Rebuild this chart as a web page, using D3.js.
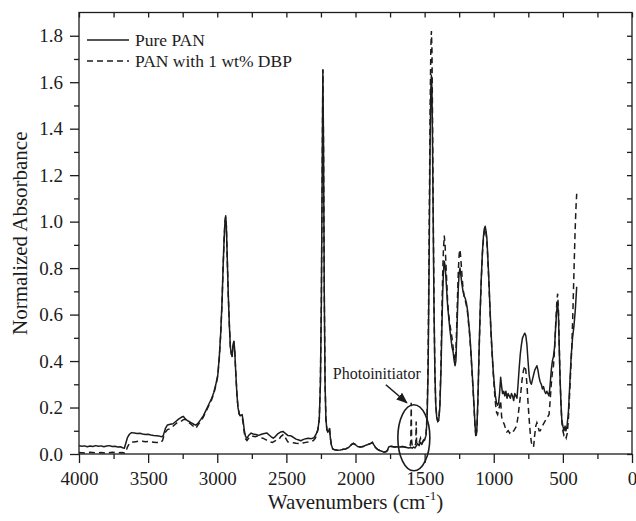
<!DOCTYPE html>
<html>
<head>
<meta charset="utf-8">
<script src="https://cdn.jsdelivr.net/npm/d3@7"></script>
<style>
  html, body { margin: 0; padding: 0; background: #fff; }
  svg { display: block; font-family: "Liberation Serif", "Times New Roman", serif; }
</style>
</head>
<body>
<svg id="chart" width="636" height="521"></svg>
<script>
// FTIR spectra: wavenumber (cm^-1) and normalized absorbance
const pureWn = [4000,3980,3960,3940,3920,3900,3880,3860,3840,3820,3800,3780,3760,3740,3720,3700,3685,3672,3662,3650,3635,3620,3600,3580,3560,3540,3520,3500,3480,3460,3440,3420,3400,3390,3375,3360,3340,3320,3300,3280,3260,3245,3230,3210,3190,3170,3155,3140,3120,3100,3080,3060,3040,3025,3010,2996,2985,2975,2965,2958,2950,2944,2939,2934,2928,2920,2912,2905,2898,2892,2886,2880,2874,2866,2858,2850,2840,2830,2820,2812,2804,2795,2785,2770,2755,2740,2720,2700,2680,2660,2640,2625,2610,2595,2580,2560,2540,2525,2510,2490,2470,2450,2430,2410,2395,2380,2360,2340,2320,2300,2285,2272,2262,2254,2247,2241,2236,2231,2226,2220,2214,2207,2200,2193,2188,2182,2175,2165,2150,2130,2110,2090,2070,2050,2030,2015,2000,1985,1965,1945,1925,1905,1890,1878,1868,1855,1840,1825,1810,1795,1780,1770,1760,1748,1735,1720,1700,1680,1660,1645,1630,1615,1600,1590,1580,1570,1560,1550,1540,1530,1520,1510,1500,1490,1482,1475,1470,1465,1460,1455,1451,1447,1443,1438,1432,1426,1420,1413,1405,1398,1390,1382,1376,1370,1364,1358,1352,1346,1340,1334,1326,1318,1310,1302,1294,1286,1280,1274,1268,1262,1256,1250,1244,1238,1230,1222,1214,1206,1198,1190,1182,1174,1166,1158,1150,1142,1135,1129,1122,1114,1106,1098,1090,1082,1074,1068,1062,1056,1050,1044,1036,1028,1020,1012,1004,996,988,980,972,965,958,950,943,936,928,920,912,904,896,888,880,872,864,856,848,840,832,824,816,808,800,792,784,776,768,760,752,744,736,728,720,712,704,696,688,680,672,664,656,648,640,632,624,616,608,600,592,584,576,568,560,552,544,538,532,526,520,514,508,500,492,484,478,470,460,450,440,430,420,410,400];
const pureAbs = [0.036,0.033,0.035,0.031,0.034,0.032,0.036,0.033,0.035,0.031,0.034,0.036,0.032,0.033,0.030,0.031,0.027,0.025,0.045,0.070,0.085,0.092,0.090,0.088,0.089,0.086,0.084,0.085,0.082,0.080,0.079,0.077,0.074,0.080,0.110,0.125,0.128,0.130,0.140,0.150,0.158,0.162,0.150,0.142,0.135,0.128,0.124,0.132,0.148,0.165,0.19,0.215,0.24,0.265,0.30,0.34,0.42,0.52,0.66,0.80,0.93,1.00,1.025,0.98,0.85,0.68,0.55,0.46,0.43,0.42,0.47,0.485,0.45,0.35,0.26,0.20,0.17,0.165,0.17,0.14,0.10,0.075,0.068,0.082,0.090,0.086,0.084,0.080,0.085,0.088,0.090,0.082,0.074,0.068,0.075,0.088,0.095,0.097,0.090,0.080,0.079,0.072,0.064,0.060,0.057,0.062,0.066,0.068,0.066,0.070,0.085,0.105,0.15,0.30,0.65,1.20,1.654,1.30,0.70,0.30,0.15,0.105,0.095,0.10,0.11,0.07,0.04,0.022,0.018,0.016,0.017,0.020,0.022,0.028,0.040,0.046,0.040,0.032,0.030,0.032,0.038,0.042,0.046,0.050,0.040,0.028,0.020,0.015,0.012,0.008,0.010,0.014,0.030,0.033,0.032,0.030,0.031,0.030,0.032,0.030,0.028,0.026,0.028,0.025,0.030,0.026,0.035,0.045,0.036,0.050,0.042,0.055,0.060,0.080,0.15,0.35,0.65,1.00,1.35,1.57,1.63,1.57,1.35,1.00,0.62,0.36,0.22,0.16,0.14,0.145,0.20,0.35,0.52,0.68,0.78,0.83,0.81,0.76,0.70,0.64,0.59,0.54,0.50,0.46,0.44,0.40,0.38,0.40,0.50,0.62,0.72,0.78,0.80,0.77,0.73,0.70,0.68,0.67,0.65,0.62,0.57,0.52,0.45,0.37,0.29,0.20,0.12,0.08,0.11,0.25,0.45,0.62,0.76,0.87,0.94,0.97,0.98,0.96,0.93,0.86,0.76,0.64,0.53,0.44,0.36,0.30,0.25,0.22,0.21,0.22,0.26,0.33,0.29,0.26,0.27,0.25,0.27,0.24,0.26,0.25,0.24,0.26,0.25,0.23,0.26,0.25,0.24,0.30,0.37,0.43,0.47,0.50,0.51,0.52,0.51,0.47,0.40,0.34,0.31,0.30,0.32,0.34,0.36,0.37,0.38,0.36,0.33,0.31,0.30,0.28,0.29,0.27,0.26,0.27,0.26,0.25,0.30,0.36,0.40,0.42,0.46,0.55,0.62,0.65,0.60,0.45,0.32,0.22,0.15,0.12,0.10,0.12,0.10,0.12,0.18,0.30,0.42,0.50,0.55,0.62,0.72];

const dbpWn = [4000,3960,3920,3880,3840,3800,3760,3720,3690,3670,3660,3650,3635,3620,3603,3580,3560,3540,3520,3500,3480,3460,3440,3420,3408,3395,3380,3360,3336,3310,3290,3264,3245,3230,3210,3190,3170,3155,3140,3120,3100,3080,3060,3040,3025,3010,2996,2985,2975,2965,2958,2950,2944,2939,2934,2928,2920,2912,2905,2898,2892,2886,2880,2874,2866,2858,2850,2840,2830,2820,2812,2804,2795,2785,2770,2758,2740,2725,2710,2690,2670,2650,2630,2614,2600,2585,2570,2555,2540,2520,2505,2490,2470,2450,2430,2410,2397,2380,2360,2340,2325,2305,2290,2280,2272,2262,2254,2247,2241,2236,2231,2226,2220,2214,2207,2200,2193,2188,2182,2175,2165,2150,2130,2110,2090,2070,2050,2030,2015,2000,1985,1965,1945,1925,1905,1890,1878,1868,1855,1840,1825,1810,1795,1780,1770,1760,1748,1735,1720,1700,1680,1660,1645,1630,1615,1605,1600,1597,1594,1590,1580,1570,1564,1561,1558,1550,1540,1530,1520,1510,1500,1490,1482,1475,1470,1465,1460,1455,1451,1447,1443,1438,1432,1426,1420,1413,1405,1398,1390,1382,1376,1370,1364,1358,1352,1346,1340,1334,1326,1318,1310,1302,1294,1286,1280,1274,1268,1262,1256,1250,1244,1238,1230,1222,1214,1206,1198,1190,1182,1174,1166,1158,1150,1142,1135,1129,1122,1114,1106,1098,1090,1082,1074,1068,1062,1056,1050,1044,1036,1028,1020,1012,1004,996,988,980,972,960,950,943,935,925,915,905,895,885,875,865,855,845,835,825,815,805,795,785,775,768,760,752,744,736,728,720,712,704,696,688,680,672,664,656,648,640,630,620,610,600,592,584,576,568,560,552,544,538,532,526,520,514,508,500,492,484,476,468,460,452,444,436,428,420,412,406,400];
const dbpAbs = [0.006,0.004,0.007,0.005,0.006,0.004,0.008,0.005,0.006,0.004,0.010,0.030,0.045,0.052,0.052,0.054,0.056,0.055,0.053,0.054,0.052,0.051,0.050,0.049,0.049,0.060,0.090,0.105,0.110,0.125,0.135,0.140,0.148,0.150,0.138,0.128,0.118,0.110,0.125,0.140,0.160,0.185,0.21,0.235,0.26,0.295,0.335,0.415,0.515,0.655,0.80,0.93,1.00,1.02,0.98,0.85,0.68,0.55,0.46,0.43,0.42,0.47,0.485,0.45,0.35,0.26,0.20,0.17,0.16,0.16,0.13,0.09,0.065,0.058,0.070,0.078,0.076,0.074,0.077,0.070,0.068,0.062,0.056,0.052,0.050,0.055,0.060,0.062,0.075,0.085,0.068,0.052,0.050,0.048,0.046,0.045,0.044,0.047,0.050,0.052,0.052,0.058,0.068,0.085,0.105,0.15,0.30,0.65,1.20,1.654,1.30,0.70,0.30,0.15,0.105,0.095,0.10,0.11,0.07,0.04,0.022,0.018,0.016,0.017,0.020,0.022,0.028,0.040,0.046,0.040,0.032,0.030,0.032,0.038,0.042,0.046,0.050,0.040,0.028,0.020,0.015,0.012,0.008,0.010,0.014,0.030,0.033,0.032,0.030,0.031,0.030,0.032,0.030,0.028,0.030,0.035,0.060,0.22,0.06,0.035,0.032,0.036,0.045,0.14,0.045,0.040,0.048,0.068,0.045,0.058,0.065,0.085,0.17,0.40,0.74,1.12,1.50,1.75,1.82,1.74,1.46,1.06,0.64,0.36,0.22,0.16,0.14,0.145,0.21,0.38,0.58,0.76,0.88,0.94,0.90,0.82,0.74,0.66,0.60,0.56,0.53,0.50,0.46,0.42,0.40,0.43,0.55,0.68,0.79,0.86,0.88,0.84,0.77,0.71,0.68,0.66,0.64,0.61,0.56,0.51,0.44,0.36,0.28,0.19,0.11,0.07,0.10,0.24,0.44,0.61,0.75,0.86,0.93,0.96,0.97,0.95,0.92,0.85,0.75,0.63,0.52,0.43,0.35,0.28,0.22,0.18,0.17,0.20,0.23,0.16,0.14,0.13,0.11,0.095,0.10,0.09,0.10,0.095,0.10,0.11,0.12,0.16,0.21,0.26,0.32,0.36,0.38,0.36,0.30,0.22,0.15,0.09,0.05,0.035,0.03,0.08,0.12,0.135,0.12,0.10,0.10,0.11,0.12,0.13,0.14,0.15,0.16,0.17,0.23,0.30,0.35,0.38,0.45,0.56,0.65,0.69,0.62,0.46,0.32,0.22,0.14,0.10,0.08,0.085,0.07,0.09,0.15,0.25,0.35,0.45,0.60,0.78,0.95,1.05,1.12];

// Axis ticks
const xMajorTicks = [4000,3500,3000,2500,2000,1500,1000,500,0];
const xMinorTicks = [3750,3250,2750,2250,1750,1250,750,250];
const yMajorTicks = [0,0.2,0.4,0.6,0.8,1.0,1.2,1.4,1.6,1.8];
const yMinorTicks = [0.1,0.3,0.5,0.7,0.9,1.1,1.3,1.5,1.7];

// Legend entries
const seriesNames = ["Pure PAN", "PAN with 1 wt% DBP"];

// Annotation marking the photoinitiator bands
const noteText = "Photoinitiator";
const noteCenter = [1578, 0.10];   // [wavenumber, absorbance]

const svg = d3.select("#chart");
const L = 79, R = 632, T = 12.5, B = 454;
const ink = "#1c1c1c";

const x = d3.scaleLinear().domain([4000, 0]).range([L, R]);
const y = d3.scaleLinear().domain([0, 1.9]).range([B, T]);

// Spectra
const line = d3.line().x(d => x(d[0])).y(d => y(d[1]));
const pure = pureWn.map((w, i) => [w, pureAbs[i]]);
const dbp = dbpWn.map((w, i) => [w, dbpAbs[i]]);

const plot = svg.append("g");
plot.append("path").datum(dbp)
  .attr("d", line).attr("fill", "none").attr("stroke", ink)
  .attr("stroke-width", 1.5).attr("stroke-dasharray", "6,4");
plot.append("path").datum(pure)
  .attr("d", line).attr("fill", "none").attr("stroke", ink)
  .attr("stroke-width", 1.5).attr("stroke-linejoin", "round");

// Frame
svg.append("rect").attr("x", L).attr("y", T).attr("width", R - L).attr("height", B - T)
  .attr("fill", "none").attr("stroke", ink).attr("stroke-width", 1.3);

function styleAxis(g) {
  g.select(".domain").remove();
  g.selectAll("line").attr("stroke", ink).attr("stroke-width", 1.3);
  g.selectAll("text").attr("fill", ink).attr("font-size", 19)
    .attr("font-family", "'Liberation Serif', 'Times New Roman', serif");
}

// Bottom axis: labelled majors, minor ticks outward
svg.append("g").attr("transform", `translate(0,${B})`)
  .call(d3.axisBottom(x).tickValues(xMajorTicks).tickSize(9).tickPadding(9).tickFormat(d3.format("d")))
  .call(styleAxis);
svg.append("g").attr("transform", `translate(0,${B})`)
  .call(d3.axisBottom(x).tickValues(xMinorTicks).tickSize(5).tickFormat(""))
  .call(styleAxis);

// Left axis
svg.append("g").attr("transform", `translate(${L},0)`)
  .call(d3.axisLeft(y).tickValues(yMajorTicks).tickSize(9).tickPadding(7).tickFormat(d3.format(".1f")))
  .call(styleAxis);
svg.append("g").attr("transform", `translate(${L},0)`)
  .call(d3.axisLeft(y).tickValues(yMinorTicks).tickSize(5).tickFormat(""))
  .call(styleAxis);

// Top and right axes: inward ticks only
svg.append("g").attr("transform", `translate(0,${T})`)
  .call(d3.axisTop(x).tickValues(xMajorTicks.concat(xMinorTicks)).tickSize(-5).tickFormat(""))
  .call(styleAxis);
svg.append("g").attr("transform", `translate(${R},0)`)
  .call(d3.axisRight(y).tickValues(yMajorTicks.concat(yMinorTicks)).tickSize(-5).tickFormat(""))
  .call(styleAxis);

// Axis titles
const xt = svg.append("text").attr("x", (L + R) / 2).attr("y", 509)
  .attr("text-anchor", "middle").attr("font-size", 21).attr("fill", ink);
xt.append("tspan").text("Wavenumbers (cm");
xt.append("tspan").attr("font-size", 13).attr("dy", -9).text("-1");
xt.append("tspan").attr("dy", 9).text(")");

svg.append("text")
  .attr("transform", `translate(27,${(T + B) / 2}) rotate(-90)`)
  .attr("text-anchor", "middle").attr("font-size", 21).attr("fill", ink)
  .text("Normalized Absorbance");

// Legend
const legend = svg.append("g");
seriesNames.forEach((name, i) => {
  const ly = 40 + i * 21;
  legend.append("line").attr("x1", 87).attr("x2", 129).attr("y1", ly).attr("y2", ly)
    .attr("stroke", ink).attr("stroke-width", 1.5)
    .attr("stroke-dasharray", i === 0 ? null : "6,4");
  legend.append("text").attr("x", 135).attr("y", ly + 6)
    .attr("font-size", 17.5).attr("fill", ink).text(name);
});

// Photoinitiator annotation: ellipse around the bands, arrow and label
const cx = x(noteCenter[0]), cy = y(noteCenter[1]);
svg.append("defs").append("marker")
  .attr("id", "arrow").attr("viewBox", "0 0 10 10").attr("refX", 9).attr("refY", 5)
  .attr("markerWidth", 7).attr("markerHeight", 7).attr("orient", "auto")
  .append("path").attr("d", "M0,1 L10,5 L0,9 Z").attr("fill", ink);
svg.append("ellipse").attr("cx", cx).attr("cy", cy + 7).attr("rx", 16).attr("ry", 33)
  .attr("fill", "none").attr("stroke", ink).attr("stroke-width", 1.6);
svg.append("line").attr("x1", cx - 28).attr("y1", cy - 46).attr("x2", cx - 7).attr("y2", cy - 28)
  .attr("stroke", ink).attr("stroke-width", 1.6).attr("marker-end", "url(#arrow)");
svg.append("text").attr("x", cx - 81).attr("y", cy - 52)
  .attr("font-size", 16).attr("fill", ink).text(noteText);
</script>
</body>
</html>
